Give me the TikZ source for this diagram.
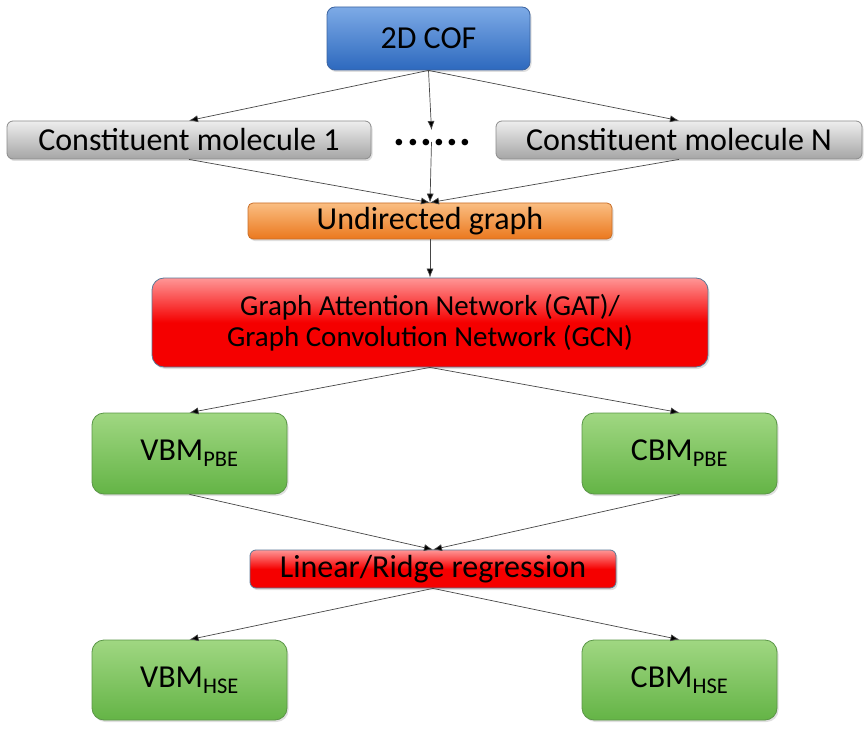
\documentclass[tikz,border=0pt]{standalone}
\usepackage{fontspec}
\setmainfont{Carlito}
\usetikzlibrary{arrows.meta,shadows}
\definecolor{bluetop}{RGB}{125,170,230}
\definecolor{bluebot}{RGB}{45,105,190}
\definecolor{blueedge}{RGB}{60,100,160}
\definecolor{graytop}{RGB}{238,238,238}
\definecolor{graybot}{RGB}{165,165,165}
\definecolor{grayedge}{RGB}{140,140,140}
\definecolor{orangetop}{RGB}{250,190,130}
\definecolor{orangebot}{RGB}{235,120,30}
\definecolor{orangeedge}{RGB}{200,110,40}
\definecolor{redtop}{RGB}{255,150,150}
\definecolor{redbot}{RGB}{245,0,0}
\definecolor{rededge}{RGB}{90,120,150}
\definecolor{greentop}{RGB}{160,215,130}
\definecolor{greenbot}{RGB}{100,180,70}
\definecolor{greenedge}{RGB}{90,150,70}
\definecolor{linegray}{RGB}{70,70,70}
\tikzset{
  box/.style={rectangle, inner sep=0pt, align=center, line width=0.8pt,
    font=\fontsize{32}{38}\selectfont,
    drop shadow={shadow xshift=1.5pt, shadow yshift=-2pt, opacity=0.25}},
  bluebox/.style={box, rounded corners=8pt, draw=blueedge, top color=bluetop, bottom color=bluebot},
  graybox/.style={box, rounded corners=6pt, draw=grayedge, top color=graytop, bottom color=graybot},
  orangebox/.style={box, rounded corners=5pt, draw=orangeedge, top color=orangetop, bottom color=orangebot},
  redbox/.style={box, rounded corners=12pt, draw=rededge, top color=redtop, bottom color=redbot, middle color=redbot},
  redsmall/.style={box, rounded corners=6pt, draw=rededge, top color=redtop, bottom color=redbot, middle color=redbot},
  greenbox/.style={box, rounded corners=12pt, draw=greenedge, top color=greentop, bottom color=greenbot},
  conn/.style={draw=linegray, line width=0.7pt, -{Latex[length=9pt,width=7pt,fill=black]}},
}
\begin{document}
\begin{tikzpicture}[x=1pt,y=-1pt]
\useasboundingbox (0,0) rectangle (868,733);
\node[bluebox, minimum width=203pt, minimum height=63pt] (cof) at (428.5,38.5) {2D COF};
\node[graybox, minimum width=364pt, minimum height=38pt] (cm1) at (189,140) {Constituent molecule 1};
\node[graybox, minimum width=366pt, minimum height=38pt] (cmn) at (679,140) {Constituent molecule N};
\node[inner sep=0pt, anchor=base, font=\fontsize{44}{44}\selectfont\bfseries] (dots) at (432.5,146) {.\hspace{1.3pt}.\hspace{1.3pt}.\hspace{1.3pt}.\hspace{1.3pt}.\hspace{1.3pt}.};
\coordinate (dtop) at (431.5,130);
\coordinate (dbot) at (431.5,142);
\node[orangebox, minimum width=364pt, minimum height=36pt] (und) at (430,221) {Undirected graph};
\node[redbox, minimum width=556pt, minimum height=89pt, font=\fontsize{29}{31}\selectfont] (gat) at (430,322.5) {Graph Attention Network (GAT)/\\Graph Convolution Network (GCN)};
\node[greenbox, minimum width=195pt, minimum height=81pt] (vpbe) at (189.5,453.5) {VBM\textsubscript{PBE}};
\node[greenbox, minimum width=195pt, minimum height=81pt] (cpbe) at (679.5,453.5) {CBM\textsubscript{PBE}};
\node[redsmall, minimum width=366pt, minimum height=38pt] (lin) at (433,569) {Linear/Ridge regression};
\node[greenbox, minimum width=195pt, minimum height=80pt] (vhse) at (189.5,680) {VBM\textsubscript{HSE}};
\node[greenbox, minimum width=195pt, minimum height=80pt] (chse) at (679.5,680) {CBM\textsubscript{HSE}};
\draw[conn] (cof.south) -- (cm1.north);
\draw[conn] (cof.south) -- (dtop);
\draw[conn] (cof.south) -- (cmn.north);
\draw[conn] (dbot) -- (und.north);
\draw[conn] (cm1.south) -- (und.north);
\draw[conn] (cmn.south) -- (und.north);
\draw[conn] (und.south) -- (gat.north);
\draw[conn] (gat.south) -- (vpbe.north);
\draw[conn] (gat.south) -- (cpbe.north);
\draw[conn] (vpbe.south) -- (lin.north);
\draw[conn] (cpbe.south) -- (lin.north);
\draw[conn] (lin.south) -- (vhse.north);
\draw[conn] (lin.south) -- (chse.north);
\end{tikzpicture}
\end{document}
